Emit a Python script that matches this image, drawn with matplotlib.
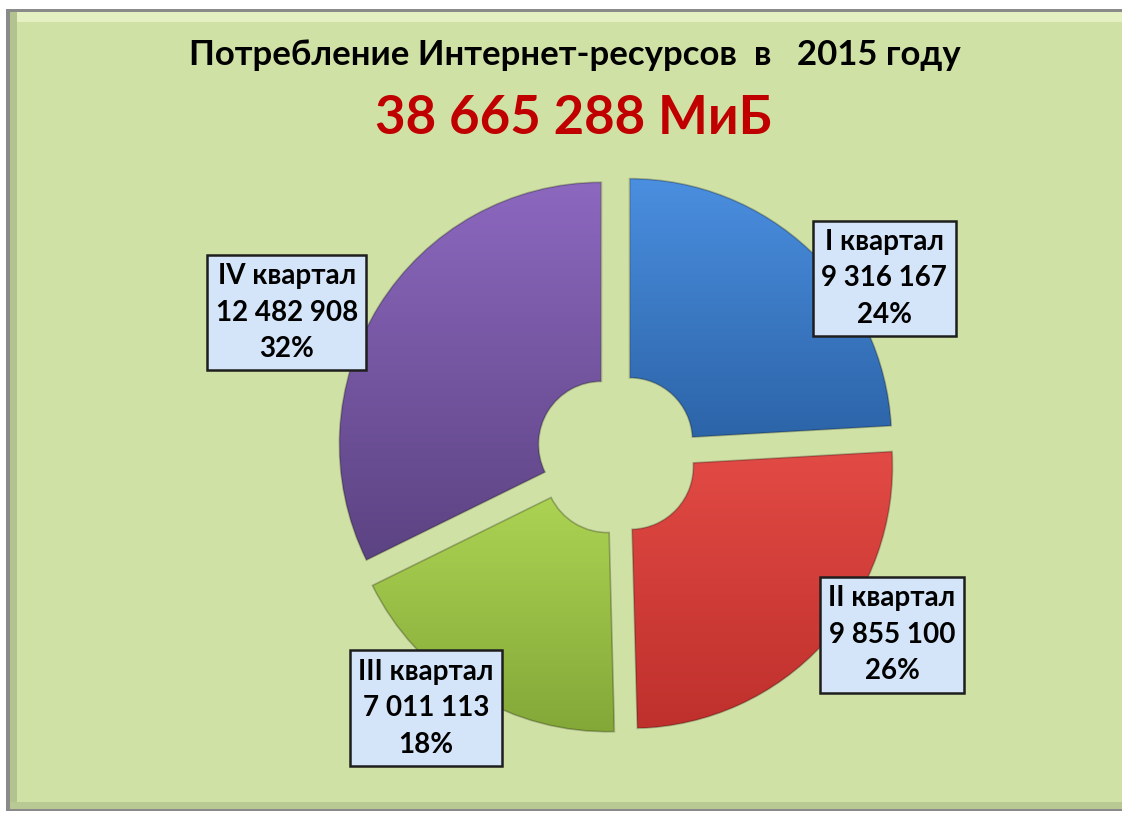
import numpy as np
import matplotlib
matplotlib.use('Agg')
import matplotlib.pyplot as plt
from matplotlib.patches import Rectangle
from matplotlib.colors import LinearSegmentedColormap

plt.rcParams['font.family'] = ['Lato', 'DejaVu Sans']

# data
quarters = ['I квартал', 'II квартал', 'III квартал', 'IV квартал']
traffic = [9316167, 9855100, 7011113, 12482908]
pct_labels = ['24%', '26%', '18%', '32%']
title = 'Потребление Интернет-ресурсов  в   2015 году'
total_text = '38 665 288 МиБ'

# colours (light top, dark bottom) per slice
grad = [('#4b8fe0', '#2c64a8'),
        ('#e24a45', '#bf302c'),
        ('#acd353', '#84a838'),
        ('#8c68bf', '#5c4382')]
label_pos = [(1.02, 0.67), (1.05, -0.69), (-0.73, -0.97), (-1.26, 0.54)]

W, H = 1122, 813
fig = plt.figure(figsize=(W / 100, H / 100), dpi=100)
fig.patch.set_facecolor('white')

# green panel with a rough bevel
def px_rect(x0, y0, x1, y1, **kw):
    r = Rectangle((x0 / W, 1 - y1 / H), (x1 - x0) / W, (y1 - y0) / H,
                  transform=fig.transFigure, **kw)
    fig.add_artist(r)
    return r

px_rect(6, 9, 1122, 811, fc='#8a8a8a', ec='none', zorder=0)
px_rect(10, 12, 1122, 809, fc='#d0e1a5', ec='none', zorder=0)
px_rect(10, 12, 1122, 22, fc='#e8f2c6', ec='none', zorder=0, alpha=0.9)
px_rect(10, 12, 17, 809, fc='#b3c38f', ec='none', zorder=0)
px_rect(10, 802, 1122, 809, fc='#b8c993', ec='none', zorder=0)

# pie axes: centre at (617, 454) px, radius 262 px
cx, cy, R = 617, 454, 262
L = 1.25
S = 2 * L * R
ax = fig.add_axes([(cx - S / 2) / W, (H - cy - S / 2) / H, S / W, S / H])
ax.set_xlim(-L, L)
ax.set_ylim(-L, L)
ax.set_aspect('equal')
ax.axis('off')

wedges, _ = ax.pie(traffic, startangle=90, counterclock=False,
                   explode=[0.07] * 4, radius=1.0,
                   wedgeprops=dict(width=0.76, lw=1.2, ec='#00000040'))

for w, (c_top, c_bot) in zip(wedges, grad):
    cmap = LinearSegmentedColormap.from_list('g', [c_bot, c_top])
    th = np.deg2rad([w.theta1, w.theta2])
    cxw, cyw = w.center
    arc = np.linspace(th[0], th[1], 50)
    xs = np.concatenate([cxw + np.cos(arc), cxw + 0.24 * np.cos(th)])
    ys = np.concatenate([cyw + np.sin(arc), cyw + 0.24 * np.sin(th)])
    im = ax.imshow(np.linspace(1, 0, 256).reshape(-1, 1), cmap=cmap,
                   aspect='auto', extent=(xs.min(), xs.max(), ys.min(), ys.max()),
                   origin='upper', zorder=1.5, vmin=0, vmax=1)
    im.set_clip_path(w)
    w.set_facecolor('none')
    w.set_zorder(2)

for q, v, p, (lx, ly) in zip(quarters, traffic, pct_labels, label_pos):
    txt = f'{q}\n{v:,}\n{p}'.replace(',', ' ')
    ax.text(lx, ly, txt, ha='center', va='center', fontsize=20,
            fontweight='bold', linespacing=1.5, zorder=5,
            bbox=dict(boxstyle='square,pad=0.3', fc='#d5e5f9',
                      ec='#1e1e1e', lw=1.8))

fig.text(575 / W, 1 - 55 / H, title, ha='center', va='center',
         fontsize=25, fontweight='bold', color='black')
fig.text(573 / W, 1 - 118 / H, total_text, ha='center', va='center',
         fontsize=38, fontweight='bold', color='#c00000')

fig.savefig('out.png', dpi=100)
